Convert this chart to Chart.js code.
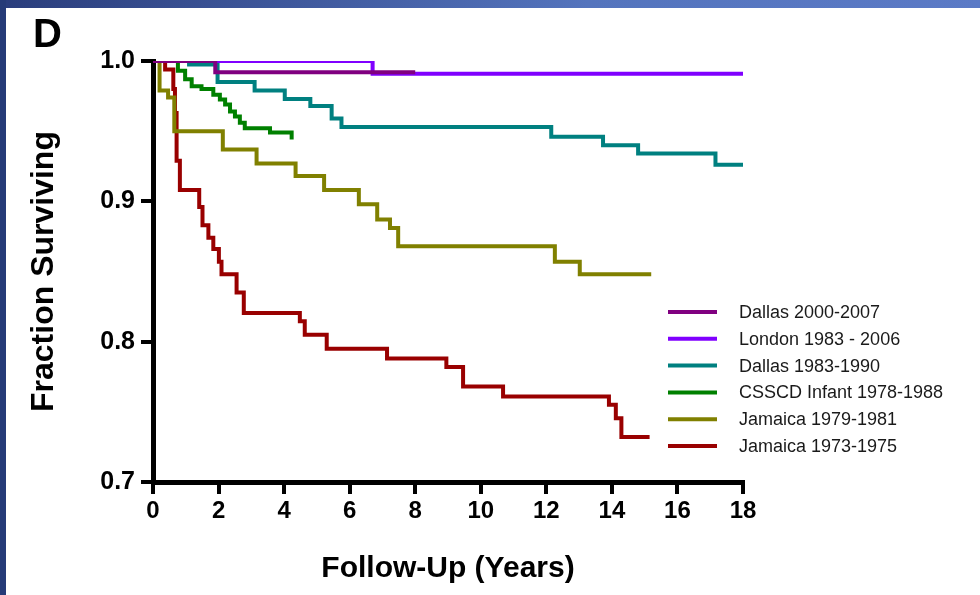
<!DOCTYPE html>
<html>
<head>
<meta charset="utf-8">
<script src="https://cdn.jsdelivr.net/npm/chart.js@4.4.1/dist/chart.umd.min.js"></script>
<style>
  body { margin: 0; background: #fff; }
  #wrap { width: 980px; height: 595px; }
</style>
</head>
<body>
<div id="wrap"><canvas id="survivalChart" width="980" height="595"></canvas></div>
<script>
// datos (años de seguimiento / fraccion sobreviviente)
const seriesLabels = ['Dallas 2000-2007', 'London 1983 - 2006', 'Dallas 1983-1990',
  'CSSCD Infant 1978-1988', 'Jamaica 1979-1981', 'Jamaica 1973-1975'];
const seriesColors = ['#800080', '#8000ff', '#008080', '#008000', '#808000', '#990000'];

const dallas0007Years = [0, 1.9, 8.0];
const dallas0007Surv = [1.0, 0.992, 0.992];

const londonYears = [0, 6.7, 18];
const londonSurv = [1.0, 0.991, 0.991];

const dallas8390Years = [0, 1.1, 1.97, 3.1, 4.02, 4.8, 5.45, 5.75, 12.15, 13.73, 14.8, 17.16, 18];
const dallas8390Surv = [1.0, 0.9975, 0.985, 0.979, 0.973, 0.968, 0.959, 0.953, 0.946, 0.940, 0.934, 0.926, 0.926];

const cssdYears = [0, 0.76, 0.98, 1.18, 1.48, 1.84, 2.04, 2.2, 2.35, 2.5, 2.65, 2.8, 3.57, 4.23];
const cssdSurv = [1.0, 0.993, 0.987, 0.982, 0.98, 0.976, 0.9725, 0.969, 0.964, 0.9605, 0.956, 0.952, 0.949, 0.944];

const jam7981Years = [0, 0.2, 0.46, 0.65, 2.13, 3.16, 4.35, 5.22, 6.28, 6.84, 7.23, 7.48, 12.26, 13.02, 15.2];
const jam7981Surv = [1.0, 0.979, 0.974, 0.95, 0.937, 0.927, 0.918, 0.908, 0.898, 0.887, 0.881, 0.868, 0.857, 0.848, 0.848];

const jam7375Years = [0, 0.37, 0.62, 0.67, 0.72, 0.82, 1.41, 1.51, 1.69, 1.84, 2.01, 2.09, 2.55, 2.77,
  4.48, 4.63, 5.3, 7.14, 8.95, 9.46, 10.68, 13.91, 14.12, 14.29, 15.15];
const jam7375Surv = [1.0, 0.994, 0.98, 0.963, 0.929, 0.908, 0.896, 0.883, 0.874, 0.866, 0.857, 0.848, 0.835, 0.8205,
  0.8145, 0.805, 0.795, 0.788, 0.782, 0.768, 0.761, 0.755, 0.7455, 0.732, 0.732];

const xTicksYears = [0, 2, 4, 6, 8, 10, 12, 14, 16, 18];
const yTicksSurv = [0.7, 0.8, 0.9, 1.0];

const allYears = [dallas0007Years, londonYears, dallas8390Years, cssdYears, jam7981Years, jam7375Years];
const allSurv = [dallas0007Surv, londonSurv, dallas8390Surv, cssdSurv, jam7981Surv, jam7375Surv];

const FONT = "'Liberation Sans', Arial, sans-serif";

// fondo con marco azul como en la diapositiva
const fondoPlugin = {
  id: 'fondo',
  beforeDraw(chart) {
    const ctx = chart.ctx;
    ctx.save();
    ctx.fillStyle = '#ffffff';
    ctx.fillRect(0, 0, chart.width, chart.height);
    const grad = ctx.createLinearGradient(0, 0, chart.width, 0);
    grad.addColorStop(0, '#2a3d7c');
    grad.addColorStop(0.6, '#5474bd');
    grad.addColorStop(1, '#5b7ac6');
    ctx.fillStyle = grad;
    ctx.fillRect(0, 0, chart.width, 8);
    ctx.fillStyle = '#263b78';
    ctx.fillRect(0, 0, 6, chart.height);
    ctx.restore();
  }
};

// letra del panel y leyenda a la derecha
const panelPlugin = {
  id: 'panel',
  afterDraw(chart) {
    const ctx = chart.ctx;
    ctx.save();
    ctx.fillStyle = '#000';
    ctx.font = 'bold 40px ' + FONT;
    ctx.textBaseline = 'alphabetic';
    ctx.textAlign = 'left';
    ctx.fillText('D', 33, 47);

    ctx.font = '18px ' + FONT;
    ctx.textBaseline = 'middle';
    chart.data.datasets.forEach((ds, i) => {
      const y = 312 + i * 26.8;
      ctx.strokeStyle = ds.borderColor;
      ctx.lineWidth = 4;
      ctx.beginPath();
      ctx.moveTo(668, y);
      ctx.lineTo(717, y);
      ctx.stroke();
      ctx.fillStyle = '#1a1a1a';
      ctx.fillText(ds.label, 739, y + 1);
    });
    ctx.restore();
  }
};

function armarDatasets() {
  return seriesLabels.map((label, i) => ({
    label: label,
    data: allYears[i].map((t, k) => ({ x: t, y: allSurv[i][k] })),
    borderColor: seriesColors[i],
    backgroundColor: seriesColors[i],
    borderWidth: 4,
    pointRadius: 0,
    stepped: 'before',
    fill: false
  }));
}

window.onload = function() {
  const ctx = document.getElementById('survivalChart').getContext('2d');
  new Chart(ctx, {
    type: 'line',
    data: { datasets: armarDatasets() },
    plugins: [fondoPlugin, panelPlugin],
    options: {
      responsive: false,
      animation: false,
      layout: { padding: { top: 61, right: 237, left: 0, bottom: 0 } },
      plugins: {
        legend: { display: false },
        tooltip: { enabled: false }
      },
      scales: {
        x: {
          type: 'linear',
          min: 0,
          max: 18,
          afterFit: scale => { scale.height = 113; },
          afterBuildTicks: scale => { scale.ticks = xTicksYears.map(v => ({ value: v })); },
          border: { display: true, color: '#000', width: 5 },
          grid: { drawOnChartArea: false, drawTicks: true, tickLength: 12, lineWidth: 4, color: '#000' },
          ticks: { color: '#000', font: { family: FONT, size: 24, weight: 'bold' }, padding: 3, maxRotation: 0 },
          title: {
            display: true,
            text: 'Follow-Up (Years)',
            color: '#000',
            font: { family: FONT, size: 30, weight: 'bold' },
            padding: { top: 0, bottom: 8 }
          }
        },
        y: {
          min: 0.7,
          max: 1.0,
          afterFit: scale => { scale.width = 153; },
          afterBuildTicks: scale => { scale.ticks = yTicksSurv.map(v => ({ value: v })); },
          border: { display: true, color: '#000', width: 5 },
          grid: { drawOnChartArea: false, drawTicks: true, tickLength: 12, lineWidth: 4, color: '#000' },
          ticks: {
            color: '#000',
            font: { family: FONT, size: 25, weight: 'bold' },
            padding: 6,
            callback: v => Number(v).toFixed(1)
          },
          title: {
            display: true,
            text: 'Fraction Surviving',
            color: '#000',
            font: { family: FONT, size: 32, weight: 'bold' },
            padding: { top: 25, bottom: 0 }
          }
        }
      }
    }
  });
};
</script>
</body>
</html>
